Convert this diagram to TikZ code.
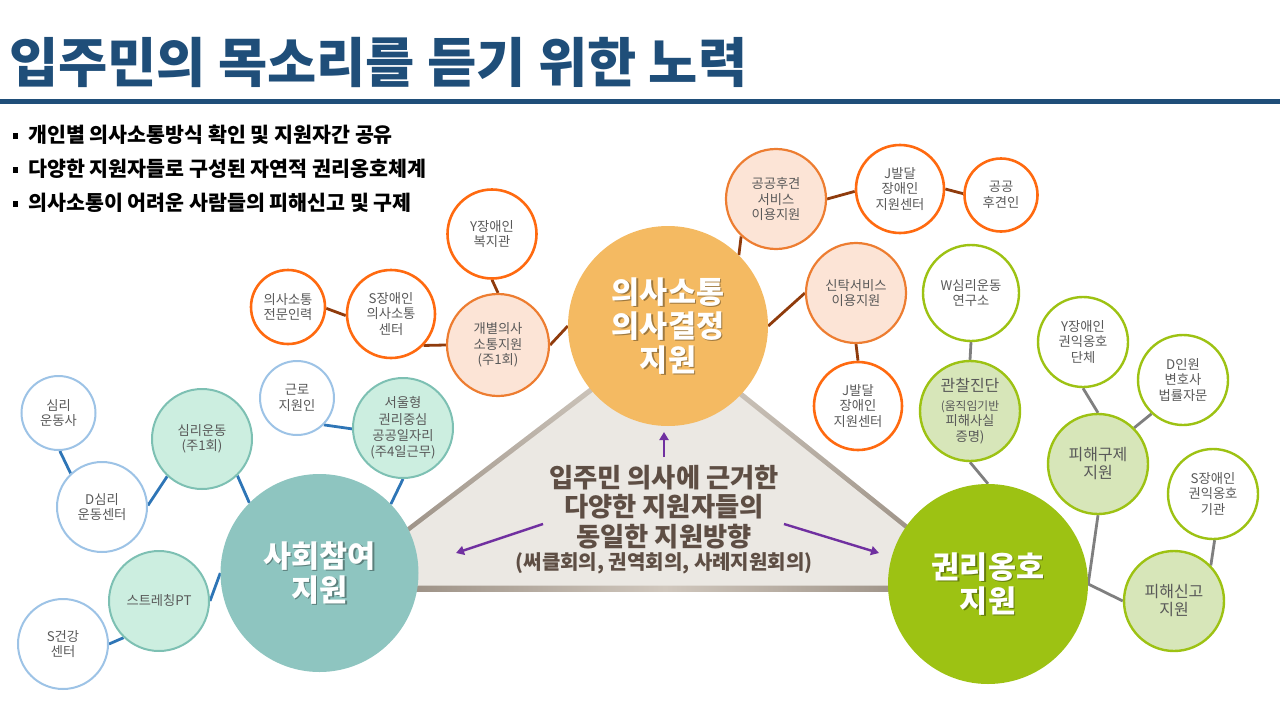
\documentclass[tikz,border=0pt]{standalone}
\usepackage{fontspec}
\setmainfont{Noto Sans CJK KR}
\usetikzlibrary{arrows.meta}
\pgfdeclarelayer{bg}
\pgfsetlayers{bg,main}
\definecolor{titleblue}{HTML}{1F4E79}
\definecolor{txtgray}{HTML}{595959}
\definecolor{ctxt}{HTML}{5E4E44}
\definecolor{cenorange}{HTML}{F4BA62}
\definecolor{oborder}{HTML}{FF6A10}
\definecolor{opeachb}{HTML}{ED7D31}
\definecolor{opeach}{HTML}{FCE4D6}
\definecolor{obrown}{HTML}{8F3B0C}
\definecolor{bborder}{HTML}{9DC3E6}
\definecolor{mint}{HTML}{CCEEE0}
\definecolor{mintb}{HTML}{7DC0B3}
\definecolor{steal}{HTML}{8EC5C0}
\definecolor{bline}{HTML}{2E75B6}
\definecolor{kgreen}{HTML}{9DC213}
\definecolor{glight}{HTML}{D7E6B9}
\definecolor{gline}{HTML}{7F7F7F}
\definecolor{purp}{HTML}{7030A0}
\definecolor{triL}{HTML}{DCD5CC}
\definecolor{triD}{HTML}{8C8074}
\definecolor{triM}{HTML}{D0C7BD}
\definecolor{trifill}{HTML}{EBE8E3}
\newcommand{\bigtxt}{\bfseries\fontsize{30.5}{34}\selectfont}
\begin{document}
\begin{tikzpicture}[x=1pt,y=-1pt,
  circ/.style={circle, inner sep=0pt, align=center, text=txtgray, font=\fontsize{13.3}{15.5}\selectfont},
  ow/.style={circ, draw=oborder, line width=2.6pt, fill=white},
  op/.style={circ, draw=opeachb, line width=2.2pt, fill=opeach},
  bw/.style={circ, draw=bborder, line width=2pt, fill=white},
  bm/.style={circ, draw=mintb, line width=2pt, fill=mint},
  gw/.style={circ, draw=kgreen, line width=2.4pt, fill=white},
  gl/.style={circ, draw=kgreen, line width=2.4pt, fill=glight},
  big/.style={circle, inner sep=0pt, align=center, text=white, font=\bigtxt,
    path picture={\node[align=center, font=\bigtxt, text=black, opacity=0.35] at ([xshift=1.5pt,yshift=-1.5pt]path picture bounding box.center) {#1};}},
  oline/.style={draw=obrown, line width=2.8pt},
  blueline/.style={draw=bline, line width=2.8pt},
  grayline/.style={draw=gline, line width=2.8pt},
  parrow/.style={draw=purp, line width=2.4pt, -{Triangle[length=8pt,width=9pt]}},
  bsq/.style={rectangle, fill=black, inner sep=0pt, minimum size=5.6pt},
  btxt/.style={anchor=west, inner sep=0pt, font=\bfseries\fontsize{20.6}{22}\selectfont}
]
\useasboundingbox (0,0) rectangle (1280,720);

% title
\node[anchor=west, inner sep=0pt, font=\bfseries\fontsize{53.5}{58}\selectfont, text=titleblue] (title) at (9,62) {입주민의 목소리를 듣기 위한 노력};
\fill[titleblue] (0,99) rectangle (1280,104);

% bullets
\node[bsq] (bq1) at (15.5,136) {};
\node[bsq] (bq2) at (15.5,170) {};
\node[bsq] (bq3) at (15.5,204) {};
\node[btxt] (bt1) at (28,135) {개인별 의사소통방식 확인 및 지원자간 공유};
\node[btxt] (bt2) at (28,169) {다양한 지원자들로 구성된 자연적 권리옹호체계};
\node[btxt] (bt3) at (28,203) {의사소통이 어려운 사람들의 피해신고 및 구제};

% big circles
\node[big={의사소통\\의사결정\\지원}, fill=cenorange, minimum size=200] (cen) at (668,326) {의사소통\\의사결정\\지원};
\node[big={사회참여\\지원}, fill=steal, minimum size=198] (sc) at (319.5,573) {사회참여\\지원};
\node[big={권리옹호\\지원}, fill=kgreen, minimum size=200] (kw) at (988,584) {권리옹호\\지원};

% orange group
\node[ow, minimum size=89] (yb) at (492,234) {Y장애인\\복지관};
\node[ow, minimum size=74] (pro) at (288,307) {의사소통\\전문인력};
\node[ow, minimum size=88] (sdc) at (391,314) {S장애인\\의사소통\\센터};
\node[op, minimum size=102] (ind) at (498,345) {개별의사\\소통지원\\(주1회)};
\node[op, minimum size=100] (gg) at (776,199) {공공후견\\서비스\\이용지원};
\node[ow, minimum size=88] (jt) at (900,189) {J발달\\장애인\\지원센터};
\node[ow, minimum size=73] (gh) at (1001,195) {공공\\후견인};
\node[op, minimum size=100] (sin) at (856,293) {신탁서비스\\이용지원};
\node[ow, minimum size=88] (jb) at (858,406) {J발달\\장애인\\지원센터};

% green group
\node[gw, minimum size=96] (w) at (971,293) {W심리운동\\연구소};
\node[gl, minimum size=100] (gc) at (970,411) {\fontsize{16}{18}\selectfont 관찰진단\\[3pt]\fontsize{11.8}{13.2}\selectfont (움직임기반\\피해사실\\증명)};
\node[gw, minimum size=90] (ya) at (1083,342) {Y장애인\\권익옹호\\단체};
\node[gw, minimum size=90] (di) at (1183,380) {D인원\\변호사\\법률자문};
\node[gl, minimum size=100, font=\fontsize{16}{18}\selectfont] (pg) at (1098,464) {피해구제\\지원};
\node[gw, minimum size=90] (sa) at (1213,494) {S장애인\\권익옹호\\기관};
\node[gl, minimum size=100, font=\fontsize{16}{18}\selectfont] (ps) at (1174,601) {피해신고\\지원};

% blue group
\node[bw, minimum size=74] (sp) at (58.5,413) {심리\\운동사};
\node[bw, minimum size=90] (dsc) at (102,507) {D심리\\운동센터};
\node[bm, minimum size=100] (sr) at (202,439) {심리운동\\(주1회)};
\node[bw, minimum size=74] (gr) at (297,398) {근로\\지원인};
\node[bm, minimum size=100, font=\fontsize{13.3}{16.3}\selectfont] (sw) at (403,428) {서울형\\권리중심\\공공일자리\\(주4일근무)};
\node[bm, minimum size=100] (st) at (159,601) {스트레칭PT};
\node[bw, minimum size=90] (sg) at (63,644) {S건강\\센터};

% center text
\node[align=center, inner sep=0pt, text=ctxt, font=\bfseries\fontsize{26.3}{29.5}\selectfont] (ctext) at (664,507) {입주민 의사에 근거한\\다양한 지원자들의\\동일한 지원방향};
\node[inner sep=0pt, text=ctxt, font=\bfseries\fontsize{20}{22}\selectfont] (csub) at (664,563) {(써클회의, 권역회의, 사례지원회의)};

% arrows
\coordinate (au1) at (664,457);
\coordinate (au2) at (664,432);
\coordinate (al1) at (543,524);
\coordinate (al2) at (456,553);
\coordinate (ar1) at (784,524);
\coordinate (ar2) at (879,553);
\draw[parrow] (au1) -- (au2);
\draw[parrow] (al1) -- (al2);
\draw[parrow] (ar1) -- (ar2);

\begin{pgfonlayer}{bg}
% triangle
\coordinate (tA) at (665,330);
\coordinate (tL) at (324,591);
\coordinate (tR) at (990,591);
\shade[top color=triL, bottom color=triD] (tA) -- (tL) -- (tR) -- cycle;
\shade[left color=triD, right color=triM] (324,585.5) rectangle (665,591);
\shade[left color=triM, right color=triD] (665,585.5) rectangle (990,591);
\fill[trifill] (665,337) -- (338.5,585.5) -- (976,585.5) -- cycle;

% orange connectors
\draw[oline] (yb.270) -- (ind.90);
\draw[oline] (pro.358) -- (sdc.182);
\draw[oline] (sdc.316) -- (ind.180);
\draw[oline] (ind.0) -- (cen.180);
\draw[oline] (gg.227) -- (cen.45);
\draw[oline] (gg.0) -- (jt.183);
\draw[oline] (jt.0) -- (gh.178);
\draw[oline] (sin.180) -- (cen.0);
\draw[oline] (sin.270) -- (jb.90);

% green connectors
\draw[grayline] (w.270) -- (gc.90);
\draw[grayline] (gc.270) -- (kw.90);
\draw[grayline] (ya.270) -- (pg.90);
\draw[grayline] (di.227) -- (pg.45);
\draw[grayline, line join=round] (pg.270) -- (kw.0) -- (ps.180);
\draw[grayline] (sa.272) -- (ps.44);

% blue connectors
\draw[blueline] (sp.272) -- (dsc.133);
\draw[blueline] (dsc.2) -- (sr.227);
\draw[blueline] (sr.314) -- (sc.135);
\draw[blueline] (gr.315) -- (sw.181);
\draw[blueline] (sw.270) -- (sc.44);
\draw[blueline] (st.0) -- (sc.180);
\draw[blueline] (sg.0) -- (st.226);
\end{pgfonlayer}
\end{tikzpicture}
\end{document}
